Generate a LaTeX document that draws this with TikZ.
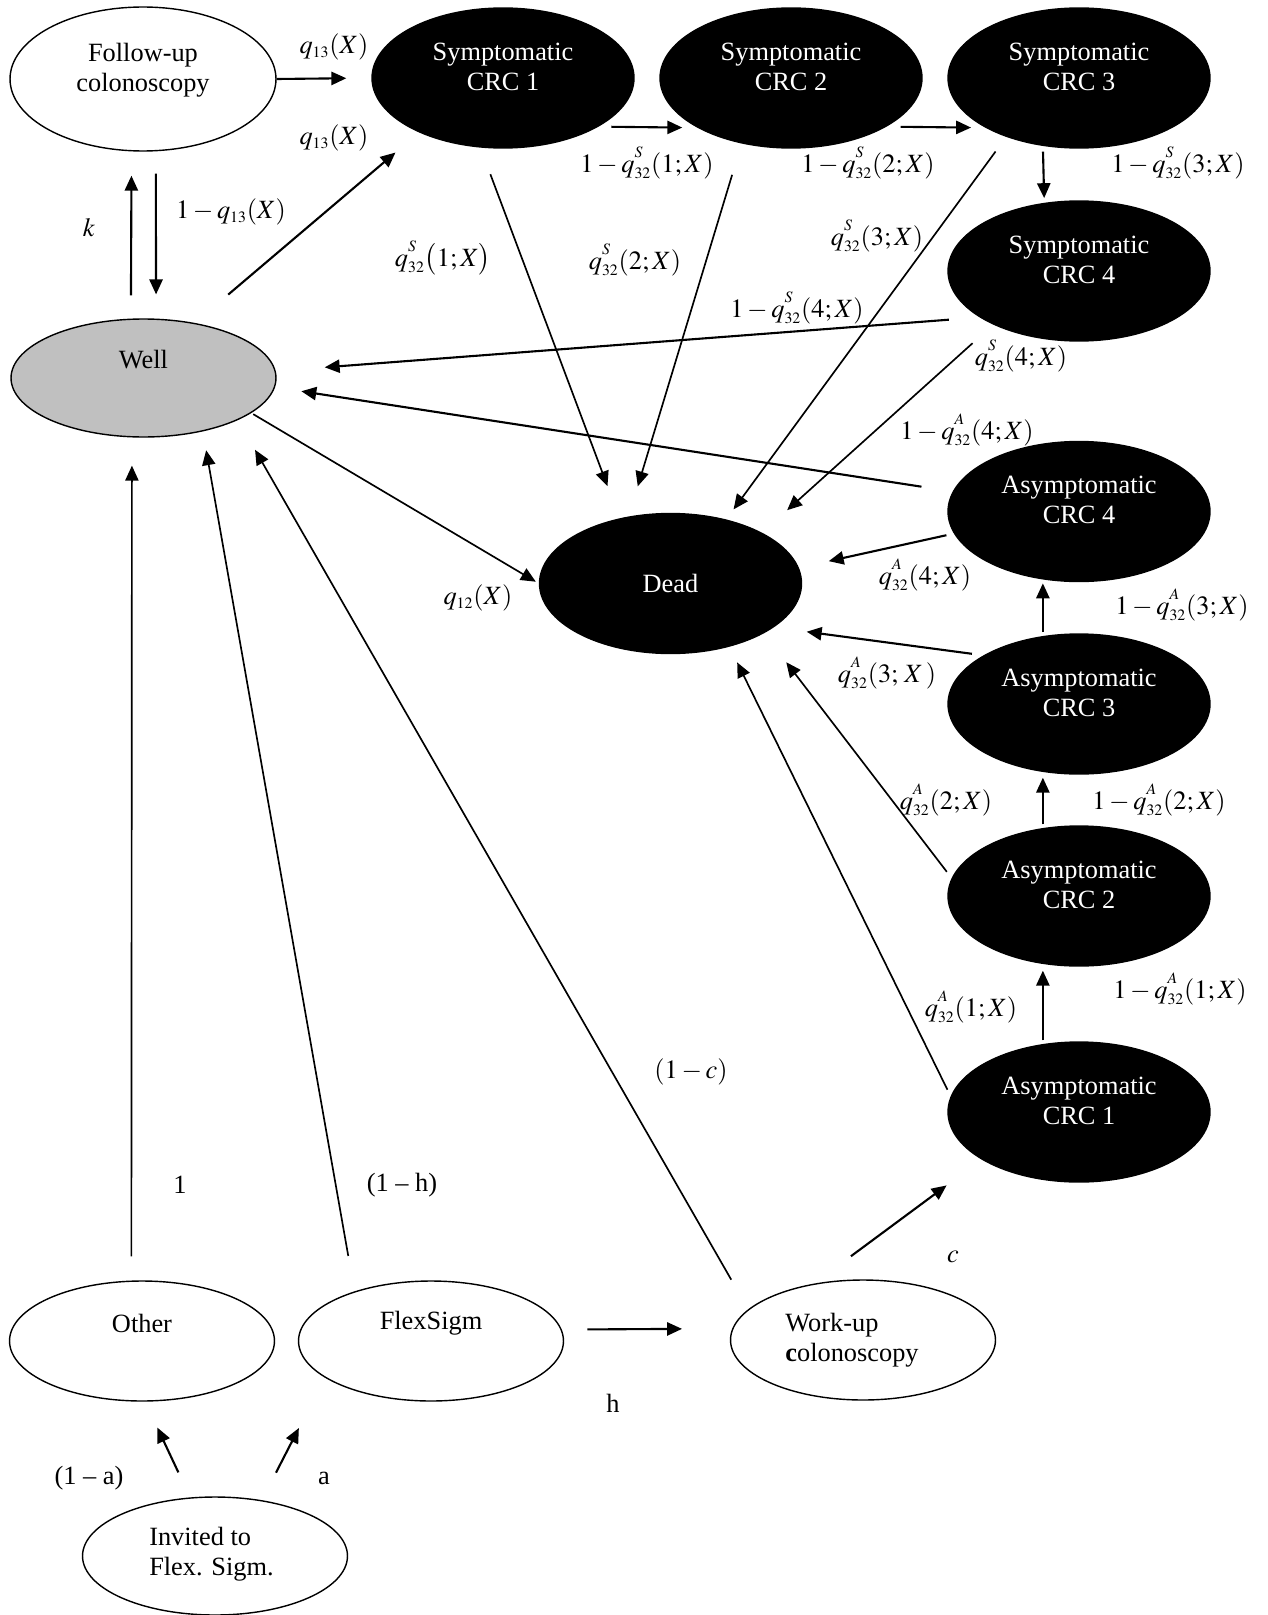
\documentclass[tikz,border=0pt]{standalone}
\usepackage{mathptmx}
\usepackage{fontspec}
\setmainfont{Liberation Serif}
\usepackage{tikz}
\usetikzlibrary{arrows.meta,shapes,positioning}
\definecolor{wellgray}{RGB}{192,192,192}
\newcommand{\statefont}{\fontsize{15}{17}\selectfont}
\newcommand{\qsub}[1]{q_{\scriptscriptstyle #1}}
\newcommand{\qrate}[2]{q^{\raisebox{3pt}{$\scriptscriptstyle #1$}}_{\scriptscriptstyle #2}}
\tikzset{
  state/.style={ellipse, draw, line width=0.8pt, minimum width=5.3cm, minimum height=2.4cm, inner sep=0pt},
  blackstate/.style={state, fill=black, minimum width=5.24cm, minimum height=2.8cm},
  intext/.style={align=center, font=\statefont},
  wtext/.style={intext, text=white},
  arr/.style={-{Triangle[length=8.5pt,width=7.5pt]}, line width=1.2pt},
  thinarr/.style={arr, line width=0.95pt},
  lbl/.style={font=\statefont, inner sep=1pt}
}

\begin{document}
\begin{tikzpicture}[x=0.02cm, y=-0.02cm]
\useasboundingbox (0,0) rectangle (1267,1615);

% states
\node[state, minimum width=5.32cm, minimum height=2.88cm, label={[intext,yshift=0.18cm]center:{Follow-up\\colonoscopy}}] (fol) at (143,79) {};
\foreach \i/\x in {1/503,2/791,3/1079}
  {
    \node[blackstate, label={[wtext,yshift=0.23cm]center:{Symptomatic\\CRC \i}}] (sym\i) at (\x,78) {};
  }
\node[blackstate, label={[wtext,yshift=0.23cm]center:{Symptomatic\\CRC 4}}] (sym4) at (1079,271) {};
\foreach \i/\y in {1/1112,2/896,3/704,4/511.5}
  {
    \node[blackstate, label={[wtext,yshift=0.23cm]center:{Asymptomatic\\CRC \i}}] (asy\i) at (1079,\y) {};
  }
\node[state, fill=wellgray, minimum height=2.36cm, label={[intext,yshift=0.36cm]center:Well}] (well) at (143.5,378) {};
\node[blackstate, text=white, font=\statefont] (dead) at (670.5,583.5) {Dead};
\node[state, label={[intext,yshift=0.36cm]center:Other}] (other) at (142,1341) {};
\node[state, label={[intext,yshift=0.36cm]center:FlexSigm}] (flex) at (431,1341) {};
\node[state, label={[intext,align=left,xshift=-0.22cm]center:{Work-up\\\textbf{c}olonoscopy}}] (work) at (863,1340) {};
\node[state, minimum height=2.36cm, label={[intext,align=left,xshift=-0.07cm,yshift=0.04cm]center:{Invited to\\Flex. Sigm.}}] (inv) at (215,1556) {};

% transitions
\draw[arr, shorten >=0.5cm] (fol.0) -- (sym1.180);
\draw[arr, shorten <=0.876cm, shorten >=0.62cm] (well.47.5) -- (sym1.-147.4);
\draw[arr, shorten <=0.465cm, shorten >=0.486cm] (well.102) -- (fol.-99.5);
\draw[arr, shorten <=0.446cm, shorten >=0.484cm] (fol.-80.5) -- (well.78.9);
\draw[arr, shorten <=0.256cm, shorten >=0.304cm] (sym1.-27.5) -- (sym2.-152.2);
\draw[arr, shorten <=0.284cm, shorten >=0.288cm] (sym2.-27.8) -- (sym3.-152.4);
\draw[arr, shorten <=0.114cm, shorten >=0.094cm] (sym3.-118.1) -- (sym4.117.8);
\draw[thinarr, shorten <=0.568cm, shorten >=0.688cm] (sym1.-108.3) -- (dead.128.7);
\draw[thinarr, shorten <=0.654cm, shorten >=0.63cm] (sym2.-127.5) -- (dead.122.1);
\draw[thinarr, shorten <=0.362cm, shorten >=0.25cm] (sym3.-141.1) -- (dead.49);
\draw[thinarr, shorten <=0.556cm, shorten >=0.674cm] (sym4.-148.2) -- (dead.29.7);
\draw[arr, shorten <=0.616cm, shorten >=0.982cm] (sym4.-155.6) -- (well.3.1);
\draw[arr, shorten <=0.632cm, shorten >=0.532cm] (asy4.171.1) -- (well.-4.8);
\draw[arr, shorten <=0.154cm, shorten >=0.612cm] (asy4.-170) -- (dead.7.8);
\draw[arr, shorten <=0.077cm, shorten >=0.078cm] (asy3.118.9) -- (asy4.-118.7);
\draw[arr, shorten <=0.234cm, shorten >=0.664cm] (asy3.153.8) -- (dead.-23.4);
\draw[arr, shorten <=0.074cm, shorten >=0.114cm] (asy2.118.1) -- (asy3.-118.1);
\draw[thinarr, shorten <=0.158cm, shorten >=0.73cm] (asy2.172.5) -- (dead.-28.2);
\draw[arr, shorten <=0.074cm, shorten >=0.134cm] (asy1.118.1) -- (asy2.-118.1);
\draw[thinarr, shorten <=0.146cm, shorten >=0.35cm] (asy1.173.1) -- (dead.-47.4);
\draw[thinarr, shorten <=0.044cm, shorten >=0.07cm] (well.-18.8) -- (dead.180);
\draw[thinarr, shorten <=0.484cm, shorten >=0.564cm] (other.100.4) -- (well.-101.1);
\draw[thinarr, shorten <=0.718cm, shorten >=0.382cm] (flex.147.9) -- (well.-42.9);
\draw[thinarr, shorten <=0.682cm, shorten >=0.686cm] (work.165.7) -- (well.-24.6);
\draw[arr, shorten <=0.92cm, shorten >=0.87cm] (work.131.9) -- (asy1.-154.1);
\draw[arr, shorten <=0.514cm, shorten >=1.004cm] (flex.5.3) -- (work.175.2);
\draw[arr, shorten <=0.552cm, shorten >=0.572cm] (inv.113.8) -- (other.-87);
\draw[arr, shorten <=0.618cm, shorten >=1.134cm] (inv.50.2) -- (flex.-161.8);

% rates
\node[lbl] (lqa) at (334,47) {$\qsub{13}(X)$};
\node[lbl] (lqb) at (334,138) {$\qsub{13}(X)$};
\node[lbl] (lnq) at (231,212) {$1-\qsub{13}(X)$};
\node[lbl] (lk) at (89,228) {$k$};
\node[lbl] (ls1) at (647,163) {$1-\qrate{S}{32}(1;X)$};
\node[lbl] (ls2) at (868,163) {$1-\qrate{S}{32}(2;X)$};
\node[lbl] (ls3) at (1178,163) {$1-\qrate{S}{32}(3;X)$};
\node[lbl] (ds1) at (443,258) {$\qrate{S}{32}\bigl(1;X\bigr)$};
\node[lbl] (ds2) at (635,260) {$\qrate{S}{32}(2;X)$};
\node[lbl] (ds3) at (877,236) {$\qrate{S}{32}(3;X)$};
\node[lbl] (ls4) at (797,308) {$1-\qrate{S}{32}(4;X)$};
\node[lbl] (ds4) at (1021,356) {$\qrate{S}{32}(4;X)$};
\node[lbl] (la4) at (967,430) {$1-\qrate{A}{32}(4;X)$};
\node[lbl] (da4) at (925,575) {$\qrate{A}{32}(4;X)$};
\node[lbl] (lq12) at (478,598) {$\qsub{12}(X)$};
\node[lbl] (la3) at (1182,605) {$1-\qrate{A}{32}(3;X)$};
\node[lbl] (da3) at (887,673) {$\qrate{A}{32}(3;\,X\,)$};
\node[lbl] (da2) at (946,800) {$\qrate{A}{32}(2;X)$};
\node[lbl] (la2) at (1159,800) {$1-\qrate{A}{32}(2;X)$};
\node[lbl] (da1) at (971,1007) {$\qrate{A}{32}(1;X)$};
\node[lbl] (la1) at (1180,989) {$1-\qrate{A}{32}(1;X)$};
\node[lbl] (lnc) at (691,1072) {$(1-c)$};
\node[lbl] (lc) at (953,1257) {$c$};
\node[lbl] (lone) at (180,1185) {1};
\node[lbl] (lnh) at (402,1185) {(1 – h)};
\node[lbl] (lh) at (613,1403) {h};
\node[lbl] (lna) at (89,1478) {(1 – a)};
\node[lbl] (la) at (324,1478) {a};
\end{tikzpicture}
\end{document}
